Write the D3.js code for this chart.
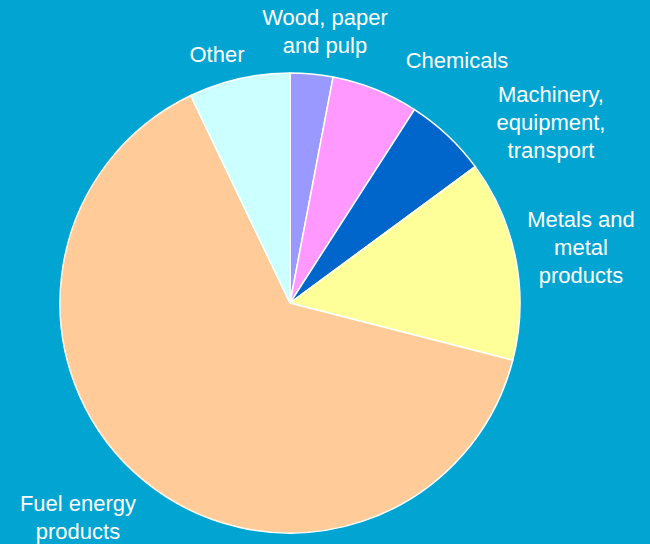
<!DOCTYPE html>
<html><head><meta charset="utf-8">
<script src="https://cdn.jsdelivr.net/npm/d3@7"></script>
<style>body{margin:0;background:#02A5D2;}svg{display:block;}</style>
</head><body>
<script>
const categories = ["Wood, paper and pulp","Chemicals","Machinery, equipment, transport","Metals and metal products","Fuel energy products","Other"];
const values = [3.0, 6.1, 5.8, 14.1, 63.9, 7.1];
const colors = ["#9999FF","#FF99FF","#0066CC","#FFFF99","#FFCC99","#CCFFFF"];
const labelLines = [["Wood, paper","and pulp"],["Chemicals"],["Machinery,","equipment,","transport"],["Metals and","metal","products"],["Fuel energy","products"],["Other"]];
const labelPos = [[325,19],[457,62],[551,96],[581,221],[78,505],[217,56]];

const W=650,H=544,cx=290,cy=303,R=230;
const svg=d3.select("body").append("svg").attr("width",W).attr("height",H);
svg.append("rect").attr("width",W).attr("height",H).attr("fill","#02A5D2");
const pie=d3.pie().sort(null).value(d=>d);
const arc=d3.arc().innerRadius(0).outerRadius(R);
const g=svg.append("g").attr("transform",`translate(${cx},${cy})`);
g.selectAll("path").data(pie(values)).join("path")
 .attr("d",arc).attr("fill",(d,i)=>colors[i]).attr("stroke","#fff").attr("stroke-width",1.5);
const lg=svg.append("g");
labelLines.forEach((lines,i)=>{
  const t=lg.append("text").attr("text-anchor","middle").attr("fill","#fff")
   .attr("font-family","Liberation Sans, Arial, sans-serif").attr("font-size",22)
   .attr("x",labelPos[i][0]).attr("y",labelPos[i][1]).attr("dominant-baseline","middle");
  lines.forEach((l,j)=>t.append("tspan").attr("x",labelPos[i][0]).attr("dy",j?28:0).text(l));
});
</script>
</body></html>
